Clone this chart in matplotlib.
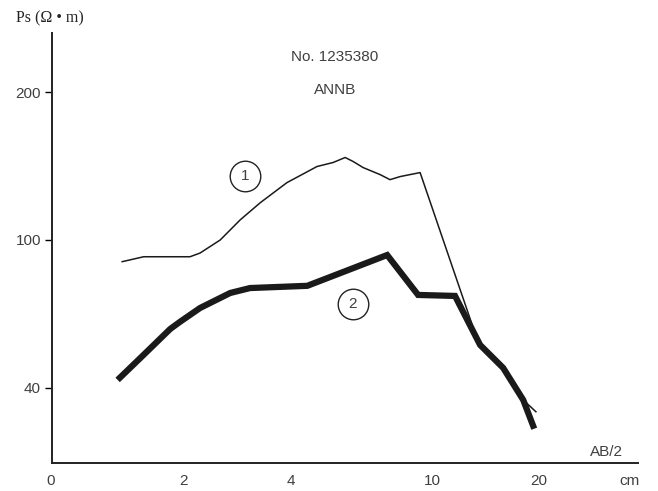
import numpy as np
import matplotlib
matplotlib.use("Agg")
import matplotlib.pyplot as plt

# AB/2 (cm) and apparent resistivity (ohm*m)
x_curve1 = [1.34, 1.54, 2.08, 2.22, 2.53, 2.88, 3.28, 3.90, 4.74, 5.26, 5.69,
            5.99, 6.39, 7.14, 7.61, 8.13, 9.25, 13.2, 13.65, 15.85, 18.05, 19.6]
y_curve1 = [91.2, 93.2, 93.2, 94.7, 100, 113.6, 125.2, 138.8, 149.7, 152.4,
            155.8, 153.1, 149.0, 144.2, 140.8, 142.9, 145.6, 62.3, 57.4, 48.1,
            35.1, 30.3]
x_curve2 = [1.32, 1.54, 1.83, 1.95, 2.22, 2.70, 3.07, 4.45, 7.47, 9.13, 11.6,
            13.65, 15.85, 18.05, 19.25]
y_curve2 = [44.1, 53.4, 63.9, 66.8, 72.4, 78.5, 80.5, 81.4, 93.9, 77.7, 77.3,
            57.4, 48.1, 35.1, 24.6]

x_ticks = [2, 4, 10, 20]
y_ticks = [40, 100, 200]
curve_labels = ["1", "2"]
label_x = [2.97, 5.98]
label_y = [143, 73.9]

# the resistivity axis is drawn with equal spacing between 40, 100 and 200
def fwd(v):
    v = np.asarray(v, dtype=float)
    return np.where(v < 100, (v - 40) / 60.0, 1 + (v - 100) / 100.0)

def inv(p):
    p = np.asarray(p, dtype=float)
    return np.where(p < 1, 40 + p * 60.0, 100 + (p - 1) * 100.0)

plt.rcParams["font.family"] = ["Liberation Sans", "DejaVu Sans"]
txt = "#404040"
fs = 11

fig = plt.figure(figsize=(6.58, 4.91), dpi=100)
ax = fig.add_axes([52 / 658, 28 / 491, 586 / 658, 430 / 491])

ax.plot(x_curve1, y_curve1, color="#1a1a1a", lw=1.1, solid_joinstyle="round")
ax.plot(x_curve2, y_curve2, color="#1a1a1a", lw=4.5, solid_joinstyle="miter")

ax.set_xscale("log")
ax.set_yscale("function", functions=(fwd, inv))
ax.set_xlim(0.85, 38)
ax.set_ylim(9.5, 240)

ax.set_xticks(x_ticks)
ax.set_xticklabels([str(t) for t in x_ticks])
ax.xaxis.set_minor_locator(matplotlib.ticker.NullLocator())
ax.set_yticks(y_ticks)
ax.set_yticklabels([str(t) for t in y_ticks])
ax.yaxis.set_minor_locator(matplotlib.ticker.NullLocator())
ax.tick_params(axis="x", length=0, pad=8, labelsize=fs, labelcolor=txt)
ax.tick_params(axis="y", length=5, width=1, pad=3, labelsize=fs, labelcolor=txt)

for s in ["top", "right"]:
    ax.spines[s].set_visible(False)
for s in ["left", "bottom"]:
    ax.spines[s].set_linewidth(1.4)
    ax.spines[s].set_color("#222222")

for lab, lx, ly in zip(curve_labels, label_x, label_y):
    ax.plot(lx, ly, "o", ms=22, mfc="white", mec="#222222", mew=1)
    ax.text(lx, ly, lab, ha="center", va="center", fontsize=fs, color=txt)

fig.text(335 / 658, 1 - 57 / 491, "No. 1235380", ha="center", va="center",
         fontsize=fs, color=txt)
fig.text(335 / 658, 1 - 90 / 491, "ANNB", ha="center", va="center",
         fontsize=fs, color=txt)
fig.text(606 / 658, 1 - 452 / 491, "AB/2", ha="center", va="center",
         fontsize=fs, color=txt)
fig.text(629 / 658, 1 - 481 / 491, "cm", ha="center", va="center",
         fontsize=fs, color=txt)
fig.text(51 / 658, 1 - 481 / 491, "0", ha="center", va="center",
         fontsize=fs, color=txt)
fig.text(16 / 658, 1 - 18 / 491, "Ps (Ω • m)", ha="left", va="center",
         fontsize=11.5, color="#222222", family="Liberation Serif")

fig.savefig("out.png", dpi=100)
